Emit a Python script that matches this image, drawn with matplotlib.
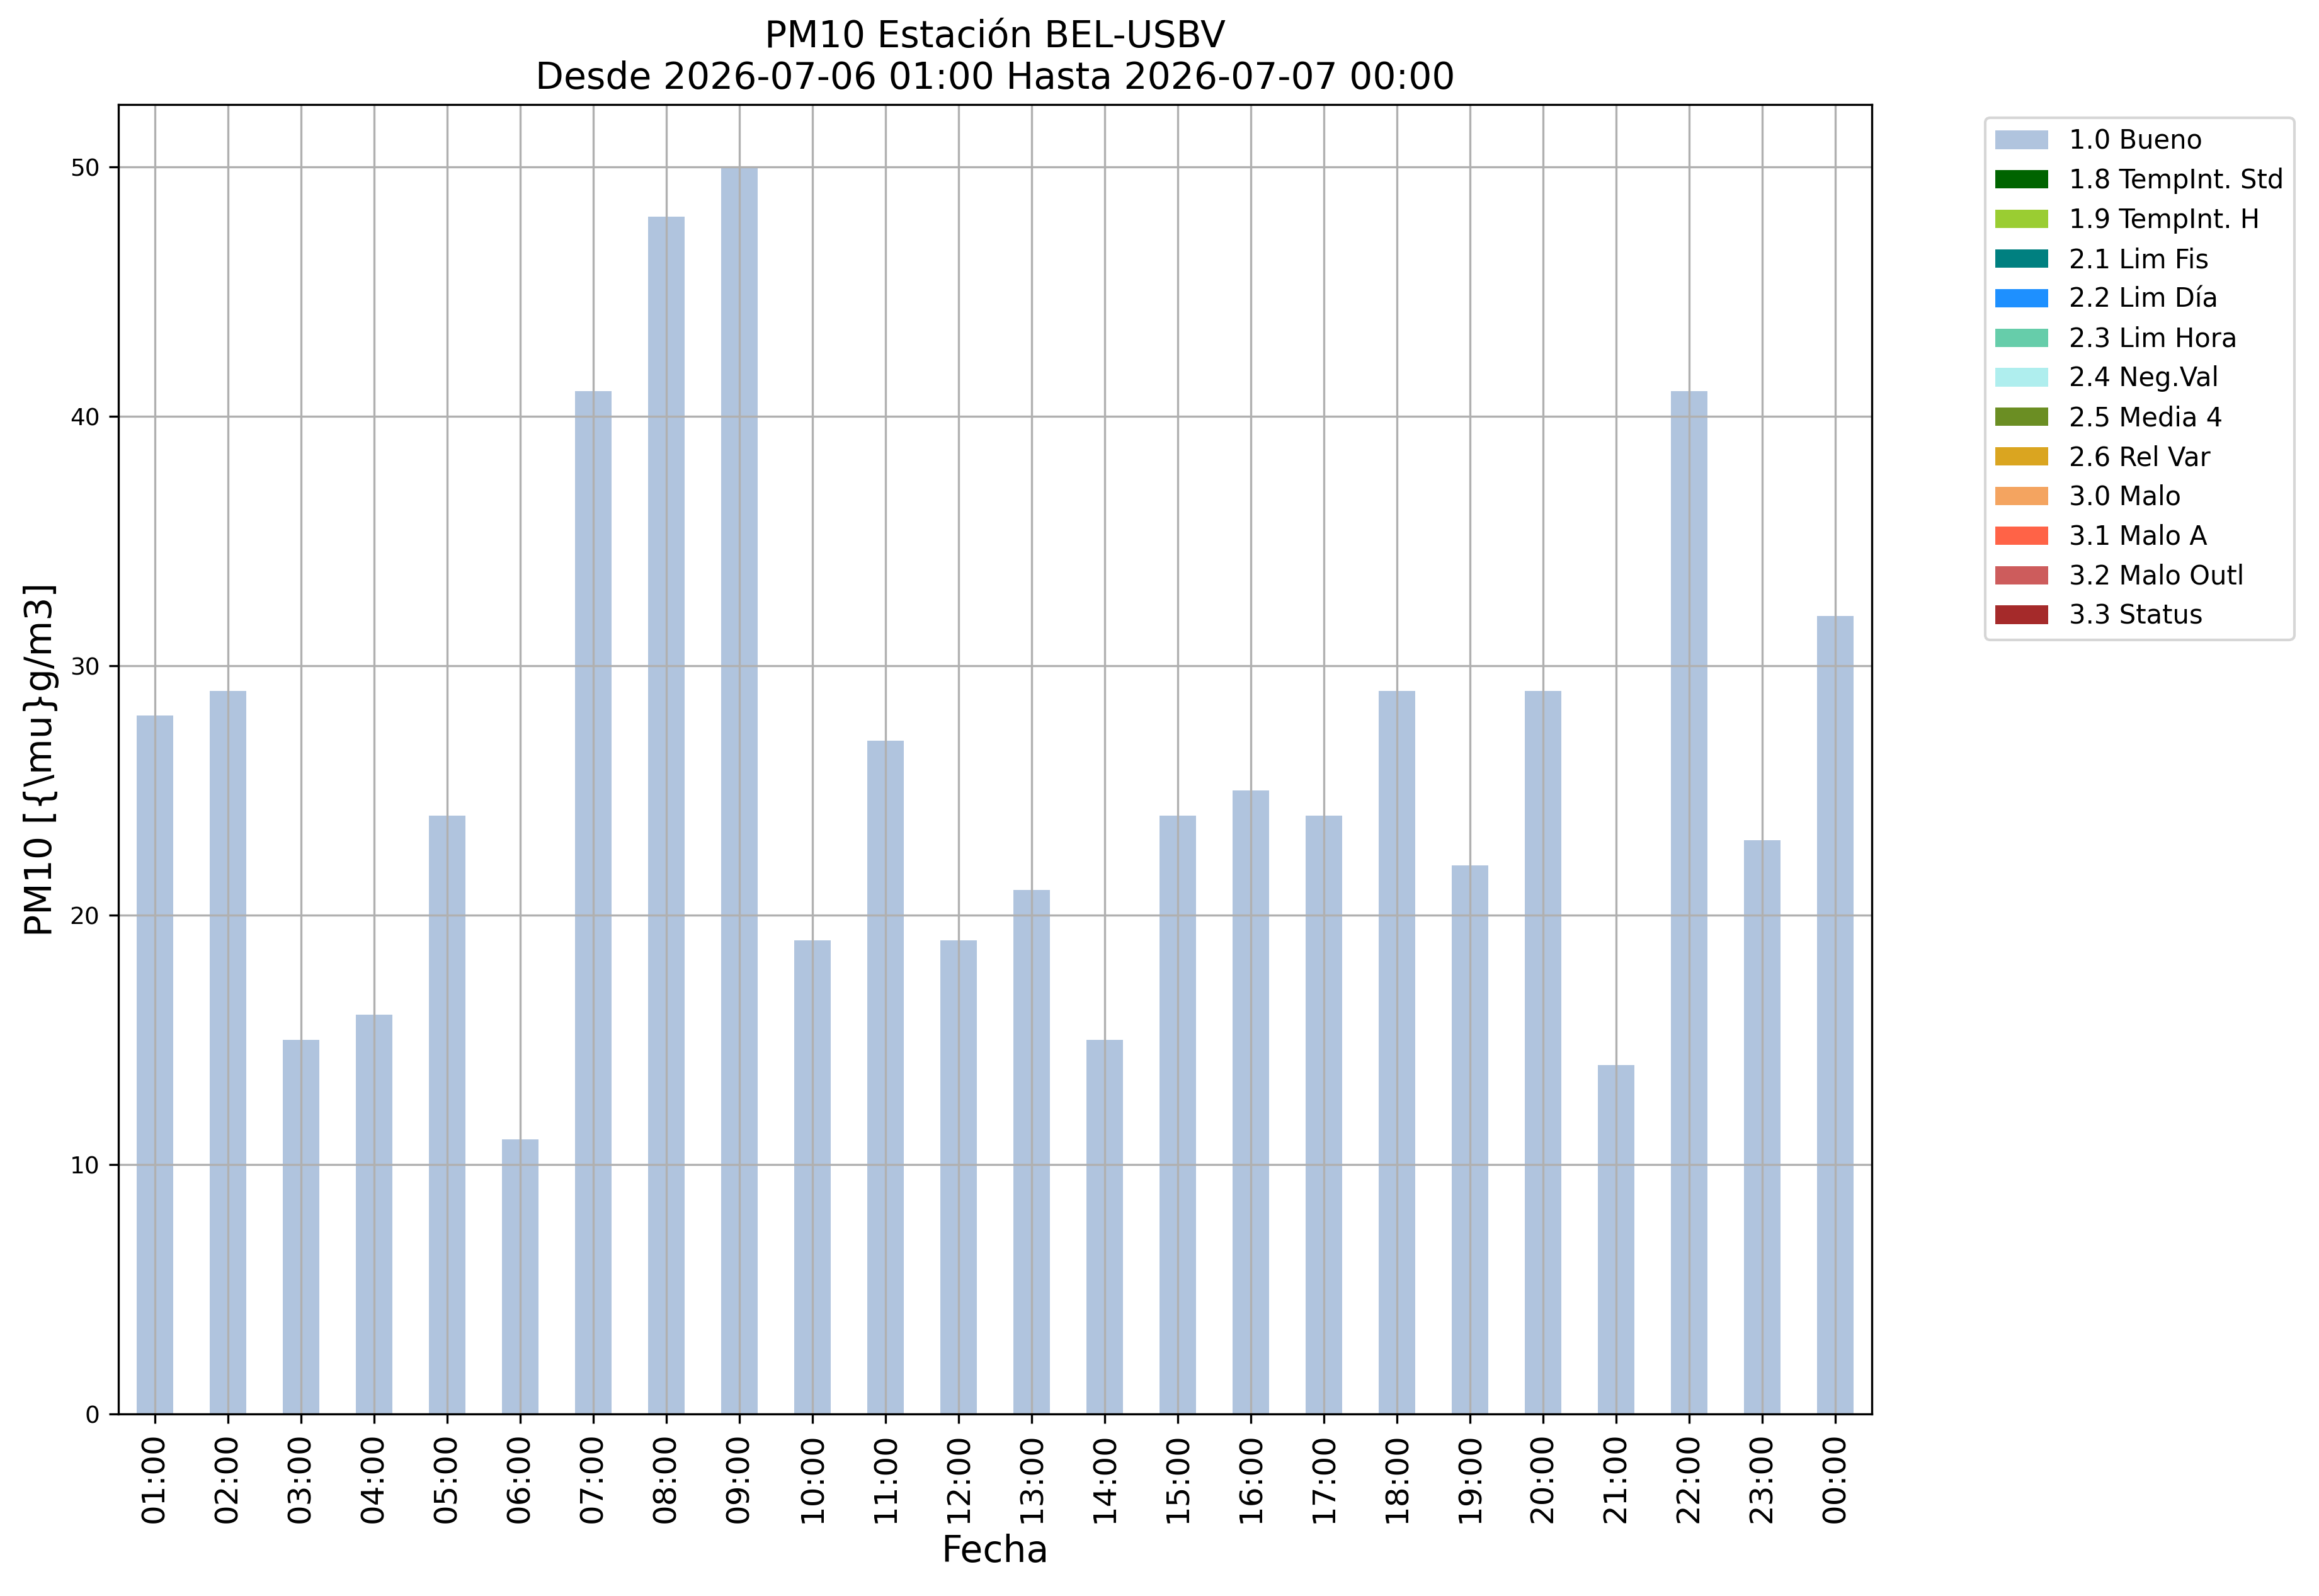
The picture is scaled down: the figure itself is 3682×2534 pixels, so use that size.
import numpy as np
import matplotlib
matplotlib.use("Agg")
import matplotlib.pyplot as plt

# hourly PM10 at BEL-USBV, all hours flagged "1.0 Bueno"
hours = ["01:00", "02:00", "03:00", "04:00", "05:00", "06:00", "07:00", "08:00",
         "09:00", "10:00", "11:00", "12:00", "13:00", "14:00", "15:00", "16:00",
         "17:00", "18:00", "19:00", "20:00", "21:00", "22:00", "23:00", "00:00"]
pm10_bueno = [28, 29, 15, 16, 24, 11, 41, 48, 50, 19, 27, 19,
              21, 15, 24, 25, 24, 29, 22, 29, 14, 41, 23, 32]

flag_labels = ["1.0 Bueno", "1.8 TempInt. Std", "1.9 TempInt. H", "2.1 Lim Fis",
               "2.2 Lim Día", "2.3 Lim Hora", "2.4 Neg.Val", "2.5 Media 4",
               "2.6 Rel Var", "3.0 Malo", "3.1 Malo A", "3.2 Malo Outl", "3.3 Status"]
flag_colors = ["lightsteelblue", "darkgreen", "yellowgreen", "teal", "dodgerblue",
               "mediumaquamarine", "paleturquoise", "olivedrab", "goldenrod",
               "sandybrown", "tomato", "indianred", "brown"]

title_text = "PM10 Estación BEL-USBV\nDesde 2026-07-06 01:00 Hasta 2026-07-07 00:00"

fig = plt.figure(figsize=(3682 / 300, 2534 / 300), dpi=300)
ax = fig.add_axes([187.5 / 3682, 1 - 2245 / 2534, (2972 - 187.5) / 3682, (2245 - 166) / 2534])

x = np.arange(len(hours))
bottom = np.zeros(len(hours))
for label, color in zip(flag_labels, flag_colors):
    # only the "Bueno" flag has data in this window, the rest are empty
    values = np.array(pm10_bueno, dtype=float) if label == "1.0 Bueno" else np.zeros(len(hours))
    ax.bar(x, values, width=0.5, bottom=bottom, color=color, label=label, linewidth=0)
    bottom += values

ax.set_xlim(-0.5, len(hours) - 0.5)
# empty stacked bars pin the autoscale at the top, so add the usual 5% margin by hand
ax.set_ylim(0, bottom.max() * 1.05)
ax.set_xticks(x)
ax.set_xticklabels(hours, rotation=90, fontsize=12)
ax.tick_params(axis="y", labelsize=9)
ax.grid(True)

ax.set_xlabel("Fecha", fontsize=14)
ax.set_ylabel("PM10 [{\\mu}g/m3]", fontsize=14)
ax.set_title(title_text, fontsize=14)

ax.legend(bbox_to_anchor=(1.057, 1), loc="upper left", fontsize=10)

fig.savefig("out.png", dpi=300)
